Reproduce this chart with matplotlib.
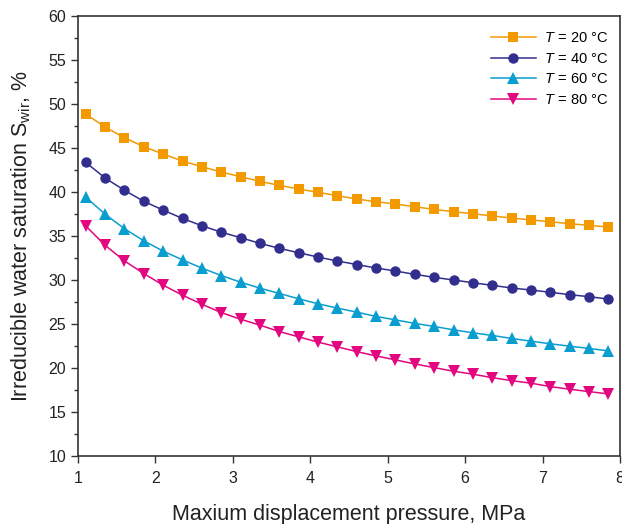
import matplotlib
matplotlib.use('Agg')
import matplotlib.pyplot as plt
from matplotlib.ticker import MultipleLocator

plt.rcParams['font.family'] = ['Liberation Sans', 'DejaVu Sans']
plt.rcParams['mathtext.fontset'] = 'custom'
plt.rcParams['mathtext.rm'] = 'Liberation Sans'
plt.rcParams['mathtext.it'] = 'Liberation Sans:italic'

# displacement pressure, MPa
pressure = [1.10, 1.35, 1.60, 1.85, 2.10, 2.35, 2.60, 2.85, 3.10, 3.35,
            3.60, 3.85, 4.10, 4.35, 4.60, 4.85, 5.10, 5.35, 5.60, 5.85,
            6.10, 6.35, 6.60, 6.85, 7.10, 7.35, 7.60, 7.85]

# irreducible water saturation, %
swir_20 = [48.85, 47.37, 46.16, 45.13, 44.30, 43.50, 42.86, 42.25, 41.72, 41.19,
           40.74, 40.32, 39.94, 39.56, 39.18, 38.87, 38.61, 38.30, 38.00, 37.74,
           37.51, 37.25, 37.02, 36.80, 36.60, 36.37, 36.19, 36.00]
swir_40 = [43.35, 41.57, 40.17, 38.92, 37.92, 36.97, 36.14, 35.41, 34.78, 34.14,
           33.57, 33.07, 32.58, 32.13, 31.73, 31.33, 30.99, 30.61, 30.27, 29.97,
           29.66, 29.36, 29.06, 28.83, 28.57, 28.30, 28.07, 27.80]
swir_60 = [39.40, 37.45, 35.80, 34.43, 33.25, 32.26, 31.32, 30.48, 29.72, 29.04,
           28.44, 27.83, 27.26, 26.77, 26.31, 25.82, 25.43, 25.03, 24.68, 24.30,
           23.96, 23.66, 23.32, 23.01, 22.71, 22.44, 22.18, 21.91]
swir_80 = [36.12, 33.92, 32.14, 30.70, 29.38, 28.24, 27.21, 26.26, 25.50, 24.83,
           24.10, 23.50, 22.90, 22.36, 21.82, 21.33, 20.88, 20.42, 20.00, 19.59,
           19.25, 18.86, 18.52, 18.23, 17.84, 17.54, 17.27, 17.01]

temps = [20, 40, 60, 80]
series = [swir_20, swir_40, swir_60, swir_80]
colors = ['#F29A00', '#322E8E', '#0A9ED0', '#E2067F']
markers = ['s', 'o', '^', 'v']
msizes = [7, 7.5, 8.5, 8.5]

fig = plt.figure(figsize=(6.22, 5.24), dpi=100)
ax = fig.add_axes([0.1254, 0.1307, 0.8714, 0.8387])

for t, y, c, m, ms in zip(temps, series, colors, markers, msizes):
    ax.plot(pressure, y, color=c, marker=m, markersize=ms, markeredgewidth=0,
            linewidth=1.1, label=r'$T\,=\,$' + '%d °C' % t)

ax.set_xlim(1, 8)
ax.set_ylim(10, 60)
ax.xaxis.set_major_locator(MultipleLocator(1))
ax.yaxis.set_major_locator(MultipleLocator(5))
ax.yaxis.set_minor_locator(MultipleLocator(2.5))
ax.tick_params(which='both', direction='out', colors='#333333', labelcolor='#222222',
               labelsize=11.5, width=1.0)
ax.tick_params(which='major', length=5)
ax.tick_params(which='minor', length=3)
ax.tick_params(axis='x', pad=6)
for s in ax.spines.values():
    s.set_color('#333333')
    s.set_linewidth(1.2)

ax.set_xlabel('Maxium displacement pressure, MPa', fontsize=15.5, color='#222222', labelpad=13)
ax.set_ylabel(r'Irreducible water saturation S$_{\mathrm{wir}}$, %', fontsize=15.5,
              color='#222222', labelpad=11)

ax.legend(loc='upper right', bbox_to_anchor=(1.003, 0.995), frameon=False, fontsize=10.5,
          handlelength=3.1, handletextpad=0.55, labelspacing=0.45)

fig.savefig('out.png', dpi=100)
